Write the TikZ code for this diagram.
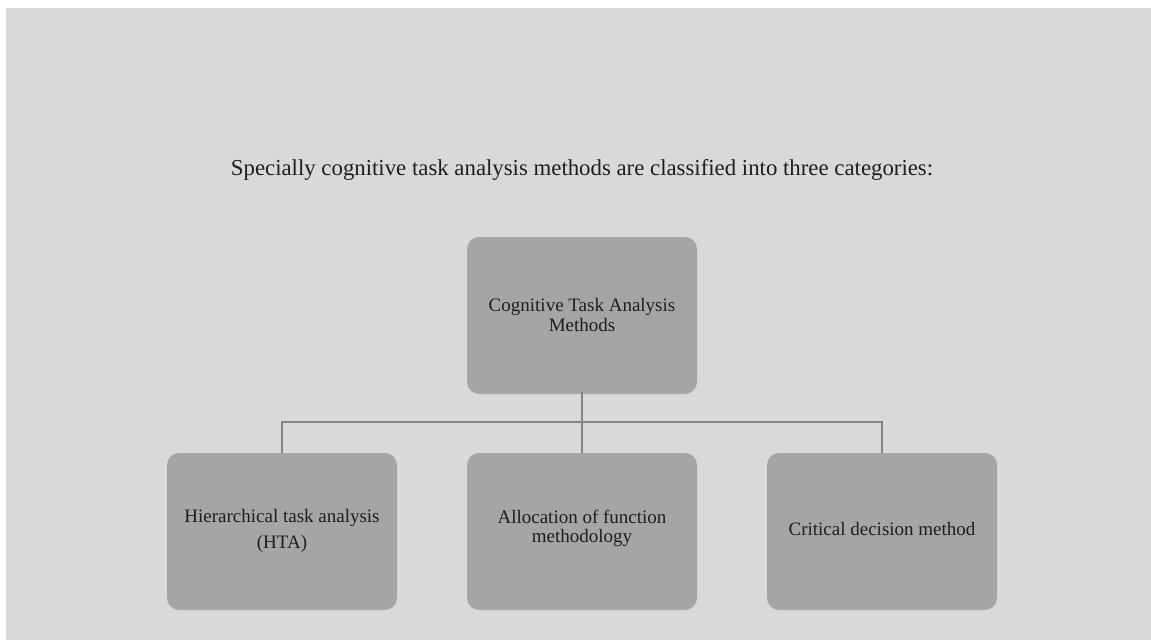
\documentclass[tikz,border=0pt]{standalone}
\usepackage{fontspec}
\setmainfont{Liberation Serif}
\usetikzlibrary{shadows}
\definecolor{bg}{HTML}{D9D9D9}
\definecolor{boxfill}{HTML}{A5A5A5}
\definecolor{linegrey}{HTML}{858585}
\definecolor{txt}{HTML}{1E1E1E}
\tikzset{
  catbox/.style={draw=none, fill=boxfill, rounded corners=12pt,
    minimum width=230pt, minimum height=155pt, inner sep=0pt,
    drop shadow={shadow xshift=0pt, shadow yshift=-2pt, opacity=0.22, fill=black}},
  boxtext/.style={text=txt, font=\fontsize{19}{20}\selectfont, align=center, inner sep=0pt},
  link/.style={draw=linegrey, line width=1.3pt}
}
\begin{document}
\begin{tikzpicture}[x=1pt, y=-1pt]
\useasboundingbox (0,0) rectangle (1151,640);
\fill[white] (0,0) rectangle (1151,640);
\fill[bg] (6,8) rectangle (1151,640);
\node[text=txt, font=\fontsize{22.8}{27}\selectfont, anchor=base, inner sep=0pt] (title) at (582,175)
  {Specially cognitive task analysis methods are classified into three categories:};
\node[catbox] (root) at (582,314.5) {};
\node[catbox] (hta) at (282,530.5) {};
\node[catbox] (afm) at (582,530.5) {};
\node[catbox] (cdm) at (882,530.5) {};
\node[boxtext] (roott) at (582,314.5) {Cognitive Task Analysis\\Methods};
\node[boxtext, font=\fontsize{19}{26}\selectfont] (htat) at (282,530.5) {Hierarchical task analysis\\(HTA)};
\node[boxtext, font=\fontsize{19}{19}\selectfont] (afmt) at (582,528.5) {Allocation of function\\methodology};
\node[boxtext, anchor=base] (cdmt) at (882,535) {Critical decision method};
\coordinate (bus) at (582,422);
\draw[link] (root.south) -- (bus);
\draw[link] (bus) -| (hta.north);
\draw[link] (bus) -- (afm.north);
\draw[link] (bus) -| (cdm.north);
\end{tikzpicture}
\end{document}
